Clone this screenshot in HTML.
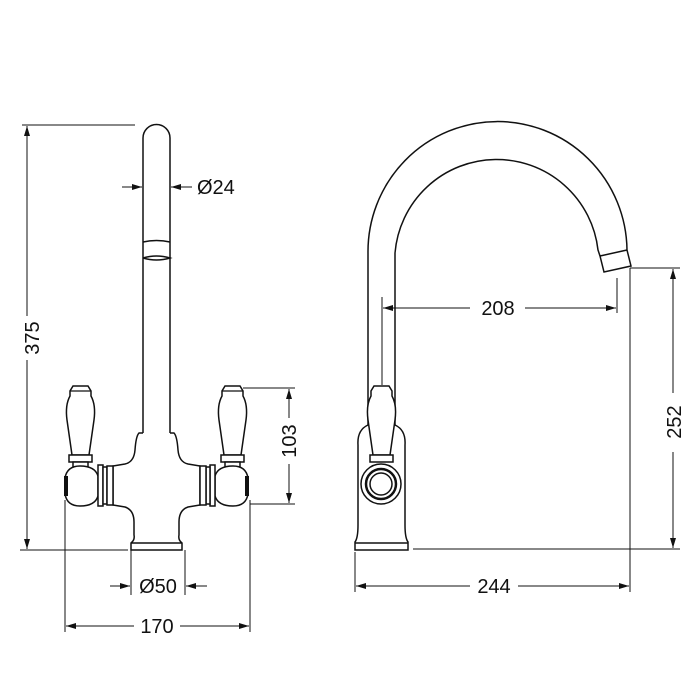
<!DOCTYPE html>
<html><head><style>body{margin:0;background:#fff}svg{display:block}text{font-family:"Liberation Sans",sans-serif;font-size:20px;fill:#111}</style></head>
<body>
<svg width="700" height="700" viewBox="0 0 700 700" xmlns="http://www.w3.org/2000/svg">
<defs>
<marker id="a" viewBox="0 0 10 6" refX="10" refY="3" markerWidth="10" markerHeight="6" orient="auto-start-reverse" markerUnits="userSpaceOnUse"><path d="M0,0 L10,3 L0,6 z" fill="#111"/></marker>
<g id="hl">
<path d="M73,386 L88,386 L91,391 L91,396 Q96,405 94,420 L89,455 L72,455 L67,420 Q65,405 70,396 L70,391 Z" fill="#fff" stroke="#111" stroke-width="1.5"/>
<line x1="70" y1="391" x2="91" y2="391" stroke="#111" stroke-width="1.2"/>
<rect x="69" y="455" width="23" height="7" fill="#fff" stroke="#111" stroke-width="1.5"/>
<rect x="73" y="462" width="15" height="5" fill="#fff" stroke="#111" stroke-width="1.5"/>
<path d="M80,466 Q67,466 65,478 L65,494 Q67,506 80,506 Q95,506 98,496 L98,476 Q95,466 80,466 Z" fill="#fff" stroke="#111" stroke-width="1.5"/>
<path d="M66,476 L66,496" stroke="#111" stroke-width="4"/>
<rect x="98" y="465" width="5" height="41" fill="#fff" stroke="#111" stroke-width="1.5"/>
<rect x="103" y="467" width="4" height="37" fill="#fff" stroke="#111" stroke-width="1.5"/>
<rect x="107" y="466" width="6" height="39" fill="#fff" stroke="#111" stroke-width="1.5"/>
</g>
</defs>
<g fill="none" stroke="#111" stroke-width="1.5">
<path d="M143,433 L143,138 A13.5,13.5 0 0 1 170,138 L170,433"/>
<path d="M143,242 Q156.5,239 170,242 M143,258 Q156.5,254 170,258 Q156.5,262 143,258"/>
<path d="M143,433 L139,433 Q136,436 135,450 Q134,462 125,464 L113,466 L113,505 L125,507 Q134,510 134,522 L134,535 Q135,540 131,543 L131,550 L182,550 L182,543 Q178,540 179,535 L179,522 Q179,510 188,507 L200,505 L200,466 L188,464 Q179,462 178,450 Q177,436 174,433 L170,433"/>
<line x1="131" y1="543" x2="182" y2="543"/>
</g>
<use href="#hl"/>
<use href="#hl" transform="translate(313,0) scale(-1,1)"/>
<g fill="none" stroke="#111" stroke-width="1.5">
<path d="M368,433 L368,253 A129.5,130 0 0 1 627,250 L631,266 L604,272 L600,256 L598,250 A102,102 0 0 0 395,253 L395,433"/>
<line x1="600" y1="256" x2="627" y2="250"/>
<path d="M368,425 Q357,430 358,445 L358,525 Q358,538 355,542 L355,550 L408,550 L408,542 Q405,538 405,525 L405,445 Q406,430 395,425" fill="#fff"/>
<line x1="355" y1="543" x2="408" y2="543"/>
<path d="M374,386 L389,386 L392,391 L392,396 Q397,405 395,420 L390,455 L373,455 L368,420 Q366,405 371,396 L371,391 Z" fill="#fff"/>
<rect x="370" y="455" width="23" height="7" fill="#fff"/>
<circle cx="381" cy="484" r="20"/>
<circle cx="381" cy="484" r="15" stroke-width="2.5"/>
<circle cx="381" cy="484" r="11"/>
</g>
<g stroke="#111" stroke-width="1" fill="none">
<line x1="22" y1="125" x2="135" y2="125"/>
<line x1="20" y1="550" x2="128" y2="550"/>
<line x1="27" y1="126" x2="27" y2="316" marker-start="url(#a)"/>
<line x1="27" y1="360" x2="27" y2="549" marker-end="url(#a)"/>
<line x1="122" y1="187" x2="142" y2="187" marker-end="url(#a)"/>
<line x1="192" y1="187" x2="171" y2="187" marker-end="url(#a)"/>
<line x1="243" y1="388" x2="295" y2="388"/>
<line x1="250" y1="504" x2="295" y2="504"/>
<line x1="289" y1="389" x2="289" y2="418" marker-start="url(#a)"/>
<line x1="289" y1="464" x2="289" y2="503" marker-end="url(#a)"/>
<line x1="131" y1="550" x2="131" y2="595"/>
<line x1="185" y1="550" x2="185" y2="595"/>
<line x1="110" y1="586" x2="130" y2="586" marker-end="url(#a)"/>
<line x1="207" y1="586" x2="186" y2="586" marker-end="url(#a)"/>
<line x1="65" y1="500" x2="65" y2="632"/>
<line x1="250" y1="500" x2="250" y2="632"/>
<line x1="66" y1="626" x2="134" y2="626" marker-start="url(#a)"/>
<line x1="180" y1="626" x2="249" y2="626" marker-end="url(#a)"/>
<line x1="382" y1="297" x2="382" y2="385"/>
<line x1="617" y1="278" x2="617" y2="313"/>
<line x1="383" y1="308" x2="470" y2="308" marker-start="url(#a)"/>
<line x1="525" y1="308" x2="616" y2="308" marker-end="url(#a)"/>
<line x1="630" y1="268" x2="680" y2="268"/>
<line x1="630" y1="268" x2="630" y2="592"/>
<line x1="413" y1="549" x2="680" y2="549"/>
<line x1="673" y1="269" x2="673" y2="393" marker-start="url(#a)"/>
<line x1="673" y1="452" x2="673" y2="548" marker-end="url(#a)"/>
<line x1="355" y1="552" x2="355" y2="592"/>
<line x1="356" y1="586" x2="470" y2="586" marker-start="url(#a)"/>
<line x1="518" y1="586" x2="629" y2="586" marker-end="url(#a)"/>
</g>
<text x="197" y="194">Ø24</text>
<text transform="translate(39,338) rotate(-90)" text-anchor="middle">375</text>
<text transform="translate(296,441) rotate(-90)" text-anchor="middle">103</text>
<text x="158" y="593" text-anchor="middle">Ø50</text>
<text x="157" y="633" text-anchor="middle">170</text>
<text x="498" y="315" text-anchor="middle">208</text>
<text x="494" y="593" text-anchor="middle">244</text>
<text transform="translate(681,422) rotate(-90)" text-anchor="middle">252</text>
</svg>
</body></html>
